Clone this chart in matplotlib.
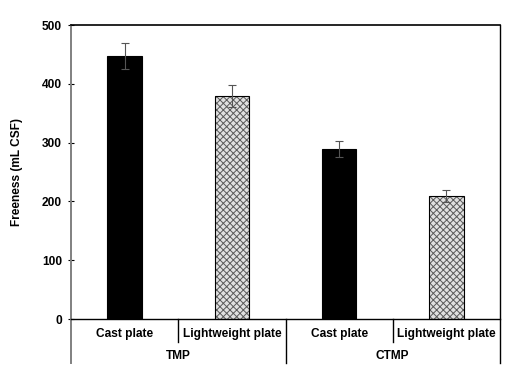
import matplotlib
matplotlib.use("Agg")
import matplotlib.pyplot as plt
import numpy as np

categories = ["Cast plate", "Lightweight plate", "Cast plate", "Lightweight plate"]
groups = ["TMP", "CTMP"]
values = [448, 379, 289, 209]
errors = [22, 19, 14, 10]
yticks = [0, 100, 200, 300, 400, 500]

plt.rcParams['font.family'] = ['Liberation Sans', 'DejaVu Sans']
plt.rcParams['font.weight'] = 'bold'
plt.rcParams['hatch.linewidth'] = 0.7

fig = plt.figure(figsize=(5.17, 3.79), dpi=100)
ax = fig.add_axes([71/517, 1-319/379, (500-71)/517, (319-25)/379])

fs = 8.6
x = np.arange(len(values))
w = 0.32
solid = [True, False, True, False]
for xi, v, s in zip(x, values, solid):
    if s:
        ax.bar(xi, v, w, color='black', edgecolor='black', linewidth=0.8, zorder=2)
    else:
        ax.bar(xi, v, w, color='#e0e0e0', edgecolor='#5a5a5a', hatch='xxxxx', linewidth=0, zorder=2)
        ax.bar(xi, v, w, fill=False, edgecolor='black', linewidth=0.8, zorder=3)
ax.errorbar(x, values, yerr=errors, fmt='none', ecolor='#555555', elinewidth=0.8, capsize=3, capthick=0.8, zorder=4)

ax.set_xlim(-0.5, 3.5)
ax.set_ylim(0, 500)
ax.set_yticks(yticks)
ax.set_yticklabels([str(t) for t in yticks], fontsize=fs, fontweight='bold')
ax.tick_params(axis='y', direction='inout', length=5, width=0.8, color='black', pad=4)
ax.set_xticks([])
ax.set_ylabel("Freeness (mL CSF)", fontsize=fs, fontweight='bold')
ax.yaxis.set_label_coords((23-71)/429, 0.5)

for side in ['left', 'right', 'top', 'bottom']:
    ax.spines[side].set_visible(False)

trans = ax.transAxes
ext = (319-363)/294
short = (319-342)/294
ax.plot([0, 0], [ext, 1], color='#808080', lw=1.4, transform=trans, clip_on=False, zorder=5)
ax.plot([1, 1], [ext, 1], color='black', lw=1.0, transform=trans, clip_on=False, zorder=5)
ax.plot([0, 1], [1, 1], color='black', lw=1.2, transform=trans, clip_on=False, zorder=5)
ax.plot([0, 1], [0, 0], color='black', lw=1.0, transform=trans, clip_on=False, zorder=5)
ax.plot([0.5, 0.5], [0, ext], color='black', lw=1.0, transform=trans, clip_on=False, zorder=5)
for b in [0.25, 0.75]:
    ax.plot([b, b], [0, short], color='black', lw=1.0, transform=trans, clip_on=False, zorder=5)

for xi, c in zip(x, categories):
    ax.text((xi + 0.5) / 4, (319-334)/294, c, transform=trans, ha='center', va='center',
            fontsize=fs, fontweight='bold')
for gi, g in enumerate(groups):
    ax.text(0.25 + 0.5*gi, (319-356)/294, g, transform=trans, ha='center', va='center',
            fontsize=fs, fontweight='bold')

fig.savefig("out.png", dpi=100)
